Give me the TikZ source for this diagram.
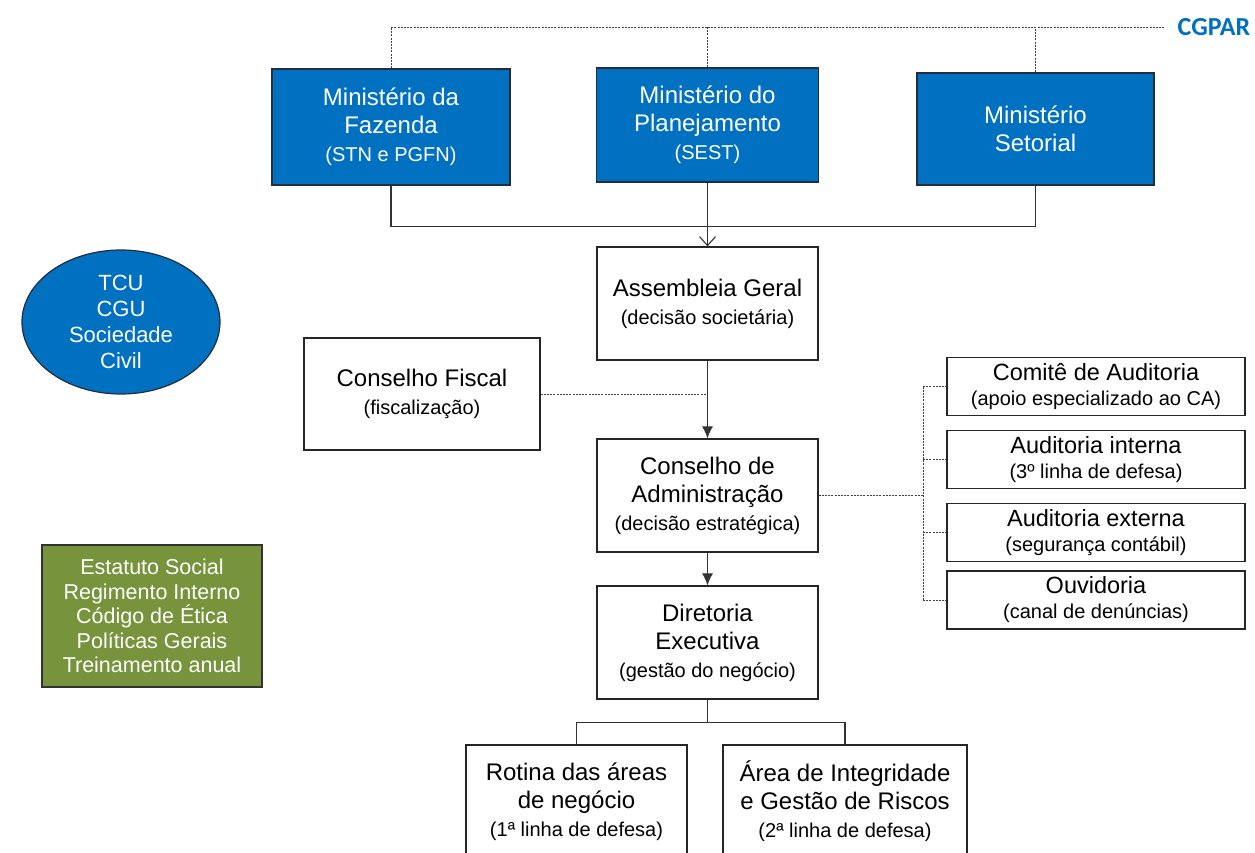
\documentclass[tikz,border=0pt]{standalone}
\usepackage{fontspec}
\setmainfont{Liberation Sans}
\newfontfamily\cgparfont{Carlito}
\usepackage{xcolor}
\usetikzlibrary{arrows.meta}
\usetikzlibrary{calc}
\usetikzlibrary{shapes.geometric}

\definecolor{MinBlue}{RGB}{0,112,192}
\definecolor{BoxEdge}{RGB}{35,45,60}
\definecolor{NormGreen}{RGB}{119,147,60}
\newcommand{\subtxt}[1]{{\fontsize{20pt}{24pt}\selectfont #1}}

\begin{document}
\begin{tikzpicture}[x=1pt, y=-1pt,
  bluebox/.style={shape=rectangle, draw=BoxEdge, line width=1.2pt, fill=MinBlue, text=white, align=center, font=\fontsize{24pt}{28pt}\selectfont},
  whitebox/.style={shape=rectangle, draw=black!85, line width=1.2pt, fill=white, align=center, minimum width=221pt, minimum height=113pt, font=\fontsize{24pt}{28pt}\selectfont},
  sidebox/.style={whitebox, minimum width=298pt, minimum height=58pt, inner sep=1pt, font=\fontsize{23.5pt}{25pt}\selectfont},
  link/.style={line width=1.1pt, draw=black!80},
  dashline/.style={line width=1pt, draw=black!75, dash pattern=on 2pt off 1.2pt}]
\clip (0,0) rectangle (1255,852);
% ministerios
\node[bluebox, minimum width=238pt, minimum height=116pt] (faz) at (391,127) {Ministério da\\Fazenda\\\subtxt{(STN e PGFN)}};
\node[bluebox, minimum width=222pt, minimum height=114pt] (plan) at (707.5,125) {Ministério do\\Planejamento\\\subtxt{(SEST)}};
\node[bluebox, minimum width=237pt, minimum height=112pt] (set) at (1035.5,129) {Ministério\\Setorial};
\node[text=MinBlue, font=\cgparfont\bfseries\fontsize{26pt}{30pt}\selectfont] (cgpar) at (1214,27) {CGPAR};
% orgaos externos e normas
\node[shape=ellipse, draw=BoxEdge, line width=1.2pt, fill=MinBlue, text=white, inner sep=0pt, minimum width=198pt, minimum height=144pt, align=center, font=\fontsize{22pt}{26pt}\selectfont] (orgs) at (121,322) {TCU\\CGU\\Sociedade\\Civil};
\node[shape=rectangle, draw=black!80, line width=1.2pt, fill=NormGreen, text=white, minimum width=220pt, minimum height=142pt, align=center, font=\fontsize{21.5pt}{24.5pt}\selectfont] (norms) at (152,616) {Estatuto Social\\Regimento Interno\\Código de Ética\\Políticas Gerais\\Treinamento anual};
% coluna central
\node[whitebox] (ag) at (707.5,303.5) {Assembleia Geral\\\subtxt{(decisão societária)}};
\node[whitebox, minimum width=236pt, minimum height=112pt] (cf) at (422,394) {Conselho Fiscal\\\subtxt{(fiscalização)}};
\node[whitebox] (ca) at (707.5,495.5) {Conselho de\\Administração\\\subtxt{(decisão estratégica)}};
\node[whitebox] (dir) at (707.5,642.5) {Diretoria\\Executiva\\\subtxt{(gestão do negócio)}};
\node[whitebox] (rot) at (576.5,801.5) {Rotina das áreas\\de negócio\\\subtxt{(1ª linha de defesa)}};
\node[whitebox, minimum width=244pt] (area) at (845,801.5) {Área de Integridade\\e Gestão de Riscos\\\subtxt{(2ª linha de defesa)}};
% comites
\node[sidebox] (cau) at (1096,386.5) {Comitê de Auditoria\\\subtxt{(apoio especializado ao CA)}};
\node[sidebox] (audi) at (1096,459.5) {Auditoria interna\\\subtxt{(3º linha de defesa)}};
\node[sidebox] (aude) at (1096,532.5) {Auditoria externa\\\subtxt{(segurança contábil)}};
\node[sidebox] (ouv) at (1096,600) {Ouvidoria\\\subtxt{(canal de denúncias)}};

\draw[dashline] (faz.north) |- ([xshift=-10pt]cgpar.west);
\draw[dashline] (plan.north) -- (plan.north |- cgpar.west);
\draw[dashline] (set.north) -- (set.north |- cgpar.west);
\draw[link] (faz.south) -- ++(0,41) -| (set.south);
\draw[link, -{Straight Barb[length=9pt, width=16pt]}] (plan.south) -- (ag.north);
\draw[dashline] (cf.east) -- (cf.east -| ag.south);
\draw[link, -{Latex[length=12pt, width=11pt]}] (ag.south) -- (ca.north);
\draw[link, -{Latex[length=12pt, width=11pt]}] (ca.south) -- (dir.north);
\coordinate (rbus) at (923,496);
\draw[dashline] (ca.east) -- (ca.east -| rbus);
\draw[dashline] (rbus |- cau.west) -- (rbus |- ouv.west);
\foreach \b in {cau,audi,aude,ouv}
  \draw[dashline] (rbus |- \b.west) -- (\b.west);
\draw[link] (dir.south) -- ++(0,23) -| (rot.north);
\draw[link] (dir.south) ++(0,23) -| (area.north);
\end{tikzpicture}
\end{document}
